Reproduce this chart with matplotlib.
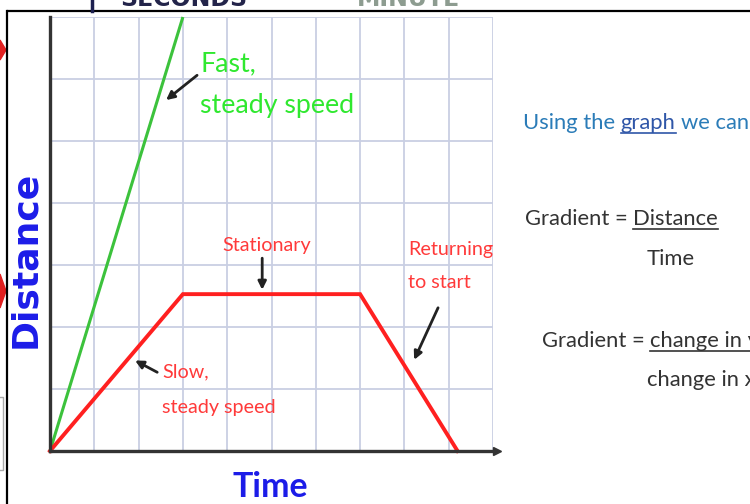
import matplotlib
matplotlib.use("Agg")
import matplotlib.pyplot as plt
from matplotlib.lines import Line2D
from matplotlib.patches import Polygon

W, H = 750, 504

# journeys on the distance-time graph
fast_time = [0, 3]
fast_dist = [0, 7]
slow_time = [0, 3, 7, 9.2]
slow_dist = [0, 2.53, 2.53, 0]

grid_x = list(range(0, 11))
grid_y = list(range(0, 8))

NARROW = ["Lato", "DejaVu Sans"]

GREEN_LINE = "#3cc23c"
GREEN_TEXT = "#2fe82f"
RED_LINE = "#ff2020"
RED_TEXT = "#ff3a3a"
BLUE = "#1c1ce8"


def px(x, y):
    # pixel position (top-left origin) -> figure fraction
    return x / W, 1 - y / H


fig = plt.figure(figsize=(W / 100, H / 100), dpi=100)
fig.patch.set_facecolor("white")

x0, y0 = px(50, 451)
x1, y1 = px(493, 17)
ax = fig.add_axes([x0, y0, x1 - x0, y1 - y0])
ax.set_xlim(0, 10)
ax.set_ylim(0, 7)
ax.set_xticks(grid_x)
ax.set_yticks(grid_y)
ax.tick_params(length=0, labelbottom=False, labelleft=False)
ax.grid(True, color="#c9cfe3", lw=1.3)
ax.set_axisbelow(True)
for s in ["top", "right"]:
    ax.spines[s].set_visible(False)
for s in ["left", "bottom"]:
    ax.spines[s].set_color("#333333")
    ax.spines[s].set_linewidth(2.4)
ax.plot(1.008, 0, ">", color="#333333", ms=6, transform=ax.get_yaxis_transform(), clip_on=False)

ax.plot(fast_time, fast_dist, color=GREEN_LINE, lw=2.2, solid_capstyle="butt", clip_on=False)
ax.plot(slow_time, slow_dist, color=RED_LINE, lw=2.8, solid_joinstyle="miter", clip_on=False)

arrow = dict(arrowstyle="-|>", color="#222222", lw=2, mutation_scale=12, shrinkA=0, shrinkB=0)

# labels on the lines
ax.text(3.39, 6.13, "Fast,", color=GREEN_TEXT, fontsize=19.3, family=NARROW)
ax.text(3.39, 5.45, "steady speed", color=GREEN_TEXT, fontsize=19.3, family=NARROW)
ax.annotate("", xy=(2.62, 5.66), xytext=(3.32, 6.06), arrowprops=arrow)

ax.text(4.88, 3.23, "Stationary", color=RED_TEXT, fontsize=14.2, family=NARROW, ha="center")
ax.annotate("", xy=(4.79, 2.6), xytext=(4.79, 3.11), arrowprops=arrow)

ax.text(8.08, 3.16, "Returning", color=RED_TEXT, fontsize=14.2, family=NARROW)
ax.text(8.08, 2.63, "to start", color=RED_TEXT, fontsize=14.2, family=NARROW)
ax.annotate("", xy=(8.22, 1.47), xytext=(8.76, 2.31), arrowprops=arrow)

ax.text(2.53, 1.18, "Slow,", color=RED_TEXT, fontsize=14.2, family=NARROW)
ax.text(2.53, 0.61, "steady speed", color=RED_TEXT, fontsize=14.2, family=NARROW)
ax.annotate("", xy=(1.92, 1.46), xytext=(2.42, 1.27), arrowprops=arrow)

# axis titles
fig.text(*px(25, 259), "Distance", color=BLUE, fontsize=26, fontweight="bold",
         family="DejaVu Sans", rotation=90, ha="center", va="center")
fig.text(*px(270, 497), "Time", color=BLUE, fontsize=24.5, fontweight="bold",
         family=NARROW, ha="center", va="baseline")

# notes on the right, some words underlined
renderer = fig.canvas.get_renderer()


def runs(x, y, pieces, size=15.8):
    xpos = x
    probe = fig.text(0, 0, "a a", fontsize=size, family=NARROW)
    probe2 = fig.text(0, 0, "aa", fontsize=size, family=NARROW)
    space = probe.get_window_extent(renderer).width - probe2.get_window_extent(renderer).width
    probe.remove()
    probe2.remove()
    for text, color, under in pieces:
        t = fig.text(*px(xpos, y), text, color=color, fontsize=size, family=NARROW, va="baseline")
        bb = t.get_window_extent(renderer)
        if under:
            uy = y + 4
            fig.add_artist(Line2D([bb.x0 / W, bb.x1 / W], [1 - uy / H] * 2,
                                  color=color, lw=1.2, transform=fig.transFigure))
        xpos = bb.x1 + space


runs(523, 129, [("Using the", "#2b7cb8", False), ("graph", "#2f56a8", True), ("we can", "#2b7cb8", False)])
runs(525, 225, [("Gradient =", "#333333", False), ("Distance", "#333333", True)])
runs(647, 265, [("Time", "#333333", False)])
runs(542, 347, [("Gradient =", "#333333", False), ("change in y", "#333333", True)])
runs(647, 386, [("change in x", "#333333", False)])

# slide frame and the edges of neighbouring shapes
fig.add_artist(Line2D([8 / W, 1], [1 - 11 / H] * 2, color="black", lw=1.6, transform=fig.transFigure))
fig.add_artist(Line2D([7 / W] * 2, [1 - 11 / H, 0], color="black", lw=1.6, transform=fig.transFigure))
fig.add_artist(Line2D([92 / W] * 2, [1, 1 - 11 / H], color="#1d2050", lw=2.5, transform=fig.transFigure))
fig.text(*px(120, 6), "SECONDS", color="#23244a", fontsize=17, fontweight="bold", va="baseline")
fig.text(*px(357, 6), "MINUTE", color="#8d9c90", fontsize=17, fontweight="bold", va="baseline")
fig.add_artist(Polygon([px(0, 40), px(6, 50), px(0, 60)], closed=True, color="#e02020",
                       transform=fig.transFigure))
fig.add_artist(Polygon([px(0, 274), px(6, 291), px(0, 308)], closed=True, color="#e02020",
                       transform=fig.transFigure))
fig.add_artist(Line2D([0, 3 / W, 3 / W, 0], [1 - 397 / H, 1 - 397 / H, 1 - 470 / H, 1 - 470 / H],
                      color="#aaaaaa", lw=1, transform=fig.transFigure))

fig.savefig("out.png", dpi=100)
